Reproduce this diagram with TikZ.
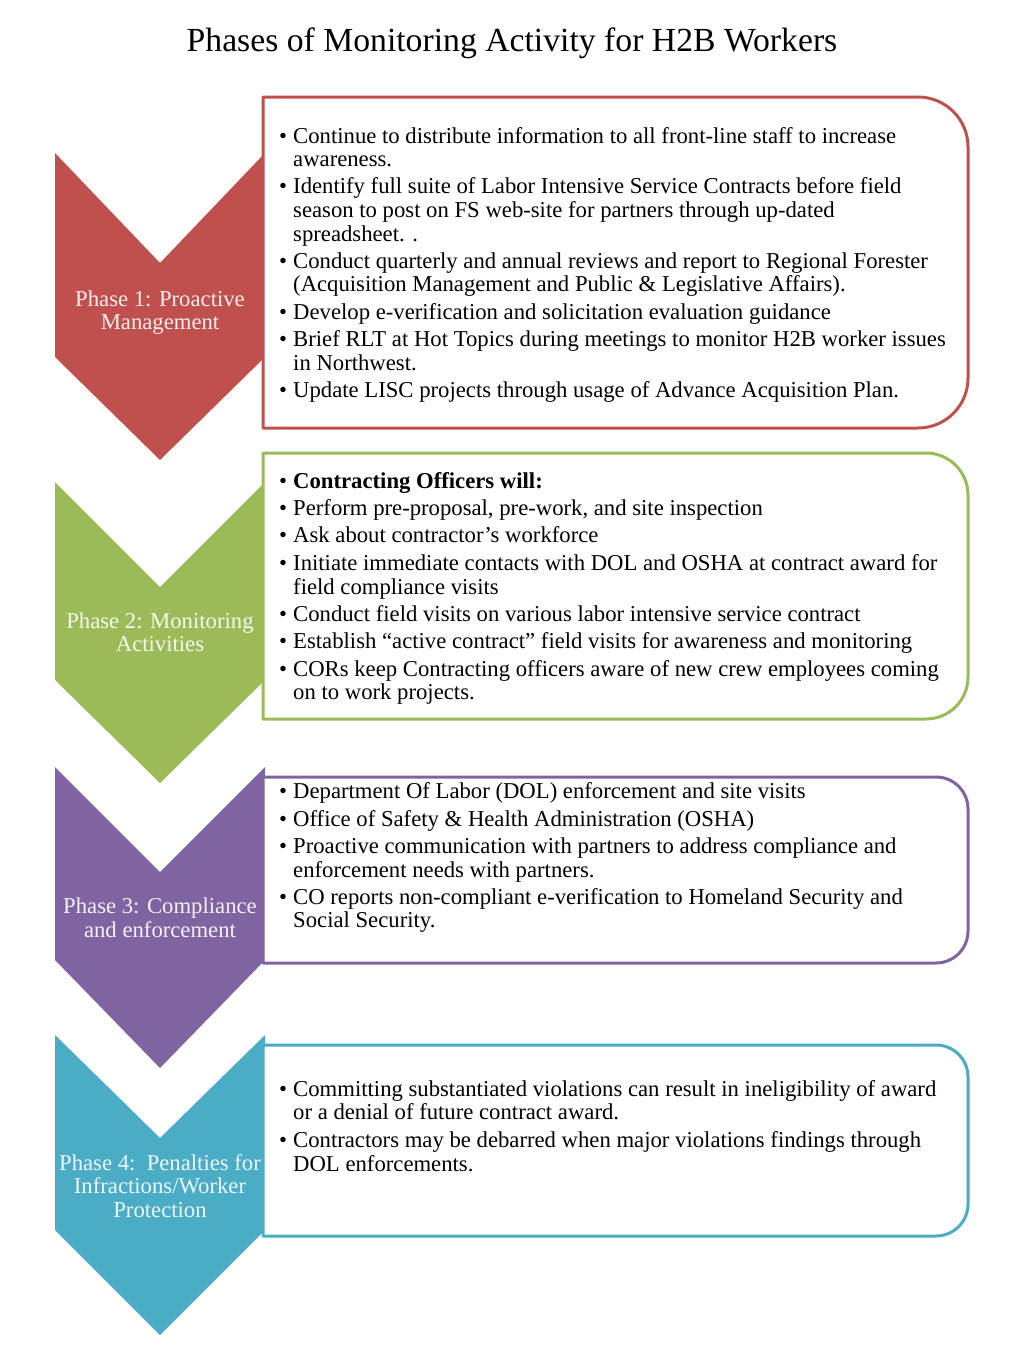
\documentclass[tikz,border=0pt]{standalone}
\usepackage{fontspec}
\setmainfont{Liberation Serif}
\definecolor{cred}{HTML}{C0504D}
\definecolor{cgreen}{HTML}{9BBB59}
\definecolor{cpurple}{HTML}{8064A2}
\definecolor{cteal}{HTML}{4BACC6}
\newcommand{\BulItem}[3]{\node[bul] (#1b) at (279,#2) {\textbullet}; \node[txt] (#1) at (293,#2) {#3};}
\newcommand{\ContLine}[3]{\node[txt] (#1) at (293,#2) {#3};}
\newcommand{\ChevShape}[5]{\fill[#1] (55,#2) -- (160,#3) -- (265,#2) -- (265,#4) -- (160,#5) -- (55,#4) -- cycle;}
\newcommand{\PhaseBox}[4]{\draw[boxline, draw=#1, fill=white] (263,#2) -- ({968-#4},#2) arc[start angle=-90,end angle=0,radius=#4] -- (968,{#3-#4}) arc[start angle=0,end angle=90,radius=#4] -- (263,#3) -- cycle;}
\newcommand{\ChevLabel}[3]{\node[clab] (#1) at (160,#2) {#3};}
\begin{document}
\begin{tikzpicture}[x=1pt,y=-1pt,
  txt/.style={anchor=base west, inner sep=0pt, font=\fontsize{22.7}{23.7}\selectfont, text=black},
  bul/.style={anchor=base west, inner sep=0pt, font=\fontsize{22.7}{23.7}\selectfont, text=black},
  clab/.style={anchor=base, inner sep=0pt, font=\fontsize{22.7}{23.7}\selectfont, text=white, text opacity=0.9},
  boxline/.style={line width=3pt, line join=round}
]
\useasboundingbox (0,0) rectangle (1024,1365);
\fill[white] (0,0) rectangle (1024,1365);

\node[anchor=base, inner sep=0pt, font=\fontsize{33.7}{36}\selectfont] (title) at (512,51) {Phases of Monitoring Activity for H2B Workers};

% chevrons
\ChevShape{cred}{153}{263}{357}{460}
\ChevShape{cgreen}{482}{587}{680}{783}
\ChevShape{cpurple}{767}{872}{960}{1068}
\ChevShape{cteal}{1035}{1138}{1230}{1335}

% boxes
\PhaseBox{cred}{97}{428}{50}
\PhaseBox{cgreen}{453}{719}{42}
\PhaseBox{cpurple}{777}{963}{32}
\PhaseBox{cteal}{1045}{1236}{32}

% chevron labels
\ChevLabel{p1a}{306}{Phase 1: Proactive}
\ChevLabel{p1b}{329}{Management}
\ChevLabel{p2a}{628}{Phase 2: Monitoring}
\ChevLabel{p2b}{651}{Activities}
\ChevLabel{p3a}{913}{Phase 3: Compliance}
\ChevLabel{p3b}{937}{and enforcement}
\ChevLabel{p4a}{1170}{Phase 4:\ \ Penalties for}
\ChevLabel{p4b}{1193}{Infractions/Worker}
\ChevLabel{p4c}{1217}{Protection}

% box 1
\BulItem{a1}{143}{Continue to distribute information to all front-line staff to increase}
\ContLine{a1c}{166}{awareness.}
\BulItem{a2}{193}{Identify full suite of Labor Intensive Service Contracts before field}
\ContLine{a2c}{217}{season to post on FS web-site for partners through up-dated}
\ContLine{a2d}{241}{spreadsheet. .}
\BulItem{a3}{268}{Conduct quarterly and annual reviews and report to Regional Forester}
\ContLine{a3c}{291}{(Acquisition Management and Public \& Legislative Affairs).}
\BulItem{a4}{319}{Develop e-verification and solicitation evaluation guidance}
\BulItem{a5}{346}{Brief RLT at Hot Topics during meetings to monitor H2B worker issues}
\ContLine{a5c}{370}{in Northwest.}
\BulItem{a6}{397}{Update LISC projects through usage of Advance Acquisition Plan.}

% box 2
\BulItem{b1}{488}{\textbf{Contracting Officers will:}}
\BulItem{b2}{515}{Perform pre-proposal, pre-work, and site inspection}
\BulItem{b3}{542}{Ask about contractor’s workforce}
\BulItem{b4}{570}{Initiate immediate contacts with DOL and OSHA at contract award for}
\ContLine{b4c}{594}{field compliance visits}
\BulItem{b5}{621}{Conduct field visits on various labor intensive service contract}
\BulItem{b6}{648}{Establish “active contract” field visits for awareness and monitoring}
\BulItem{b7}{676}{CORs keep Contracting officers aware of new crew employees coming}
\ContLine{b7c}{699}{on to work projects.}

% box 3
\BulItem{c1}{798}{Department Of Labor (DOL) enforcement and site visits}
\BulItem{c2}{826}{Office of Safety \& Health Administration (OSHA)}
\BulItem{c3}{853}{Proactive communication with partners to address compliance and}
\ContLine{c3c}{877}{enforcement needs with partners.}
\BulItem{c4}{904}{CO reports non-compliant e-verification to Homeland Security and}
\ContLine{c4c}{927}{Social Security.}

% box 4
\BulItem{d1}{1096}{Committing substantiated violations can result in ineligibility of award}
\ContLine{d1c}{1119}{or a denial of future contract award.}
\BulItem{d2}{1147}{Contractors may be debarred when major violations findings through}
\ContLine{d2c}{1171}{DOL enforcements.}
\end{tikzpicture}
\end{document}
